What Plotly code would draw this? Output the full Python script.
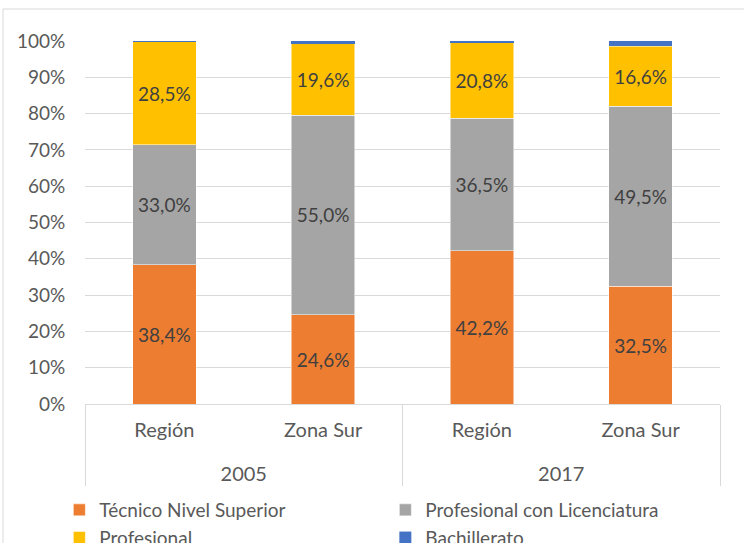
import plotly.graph_objects as go

years = ["2005", "2005", "2017", "2017"]
zones = ["Región", "Zona Sur", "Región", "Zona Sur"]

series_names = ["Técnico Nivel Superior", "Profesional con Licenciatura", "Profesional", "Bachillerato"]
tecnico = [38.4, 24.6, 42.2, 32.5]
licenciatura = [33.0, 55.0, 36.5, 49.5]
profesional = [28.5, 19.6, 20.8, 16.6]
bachillerato = [0.1, 0.8, 0.5, 1.4]
colors = ["#ED7D31", "#A5A5A5", "#FFC000", "#4472C4"]

y_ticks = [0, 10, 20, 30, 40, 50, 60, 70, 80, 90, 100]
y_tick_text = [f"{t}%" for t in y_ticks]

FONT = "Lato"
TXT = "#404040"
GRID = "#D9D9D9"

def fmt(v):
    return f"{v:.1f}%".replace(".", ",")

# inner labels padded with a blank line so the outer level sits lower
zones_padded = [z + "<br> " for z in zones]

fig = go.Figure()
for name, vals, col, show in zip(series_names,
                                 [tecnico, licenciatura, profesional, bachillerato],
                                 colors, [True, True, True, False]):
    fig.add_trace(go.Bar(
        x=[years, zones_padded], y=vals, name=name,
        marker=dict(color=col, line=dict(color="white", width=0.5 if show else 0)),
        text=[fmt(v) for v in vals] if show else None,
        textposition="inside" if show else "none",
        insidetextanchor="middle",
        textangle=0,
        textfont=dict(family=FONT, size=19, color=TXT),
        hoverinfo="skip",
    ))

PW, PH = 635, 363
fig.update_layout(
    barmode="stack",
    bargap=0.6,
    width=744, height=543,
    margin=dict(l=85, r=24, t=41, b=139, autoexpand=False),
    paper_bgcolor="white", plot_bgcolor="white",
    font=dict(family=FONT, color="#595959", size=17),
    showlegend=True,
    legend=dict(orientation="h", x=-0.0404, xanchor="left", y=-153 / PH, yanchor="bottom",
                entrywidth=281, entrywidthmode="pixels",
                font=dict(family=FONT, size=19, color="#595959"),
                traceorder="normal", itemwidth=30,
                bgcolor="rgba(0,0,0,0)"),
    shapes=[dict(type="rect", xref="paper", yref="paper",
                 x0=-82 / PW, x1=1 + 60 / PW,
                 y0=-170 / PH, y1=1 + 32 / PH,
                 line=dict(color=GRID, width=1), fillcolor="rgba(0,0,0,0)", layer="below")],
)
fig.update_yaxes(range=[0, 100], tickmode="array", tickvals=y_ticks, ticktext=y_tick_text,
                 showgrid=True, gridcolor=GRID, gridwidth=1,
                 zeroline=False, showline=False,
                 ticks="outside", ticklen=15, tickcolor="rgba(0,0,0,0)",
                 tickfont=dict(family=FONT, size=19, color="#595959"))
fig.update_xaxes(showline=True, linecolor=GRID, linewidth=1,
                 showdividers=True, dividercolor=GRID, dividerwidth=1,
                 tickfont=dict(family=FONT, size=20, color="#595959"),
                 ticks="", ticklabelstandoff=8)

fig.write_html("out.html",
               config={"displayModeBar": False},
               post_script="document.body.style.margin='0';document.body.style.overflow='hidden';")
